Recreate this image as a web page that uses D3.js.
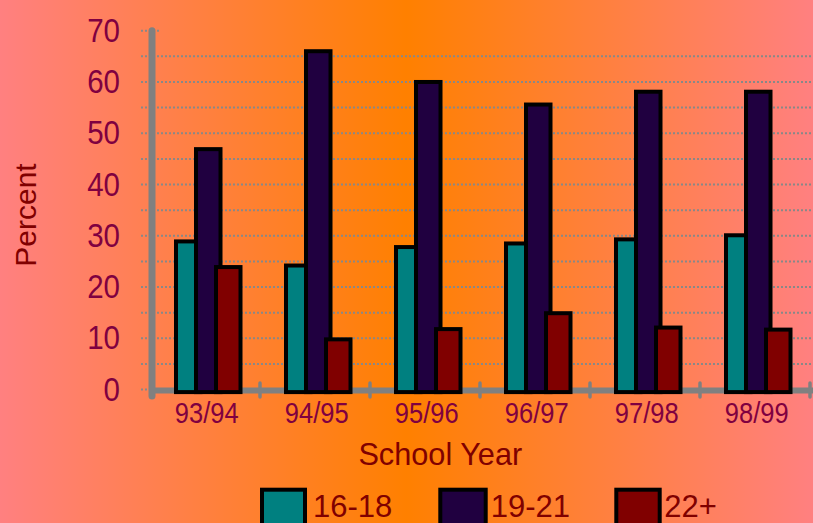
<!DOCTYPE html>
<html>
<head>
<meta charset="utf-8">
<script src="https://cdn.jsdelivr.net/npm/d3@7"></script>
<style>
  html, body { margin: 0; padding: 0; overflow: hidden; }
  svg { display: block; font-family: "Liberation Sans", Arial, sans-serif; }
</style>
</head>
<body>
<svg id="chart" width="813" height="523"></svg>
<script>
const categories = ["93/94", "94/95", "95/96", "96/97", "97/98", "98/99"];
const seriesNames = ["16-18", "19-21", "22+"];
const values1618 = [28.9, 24.2, 27.8, 28.5, 29.3, 30.1];
const values1921 = [46.9, 66.0, 60.0, 55.6, 58.1, 58.1];
const values22 = [23.9, 9.8, 11.8, 14.9, 12.1, 11.7];
const yTicks = [0, 10, 20, 30, 40, 50, 60, 70];
const gridValues = [5, 10, 15, 20, 25, 30, 35, 40, 45, 50, 55, 60, 65];
const colors = ["#008080", "#200040", "#800000"];

const series = [values1618, values1921, values22];

const svg = d3.select("#chart");
const W = 813, H = 523;

// background gradient
const defs = svg.append("defs");
const grad = defs.append("linearGradient").attr("id", "bg")
  .attr("x1", "0%").attr("x2", "100%").attr("y1", "0%").attr("y2", "0%");
grad.append("stop").attr("offset", "0%").attr("stop-color", "#FF8080");
grad.append("stop").attr("offset", "50%").attr("stop-color", "#FF8000");
grad.append("stop").attr("offset", "100%").attr("stop-color", "#FF8080");
svg.append("rect").attr("width", W).attr("height", H).attr("fill", "url(#bg)");

const x = d3.scaleBand().domain(categories).range([150, 810]).padding(0);
const y = d3.scaleLinear().domain([0, 70]).range([389.6, 30.7]);

// gridlines
svg.append("g").selectAll("line").data(gridValues).join("line")
  .attr("x1", 141).attr("x2", W)
  .attr("y1", d => y(d)).attr("y2", d => y(d))
  .attr("stroke", "#888888").attr("stroke-width", 2)
  .attr("stroke-dasharray", "2,2");
svg.append("g").selectAll("line").data([0, 70]).join("line")
  .attr("x1", 141).attr("x2", 160)
  .attr("y1", d => y(d)).attr("y2", d => y(d))
  .attr("stroke", "#888888").attr("stroke-width", 2)
  .attr("stroke-dasharray", "2,2");

// x axis line and ticks
svg.append("line")
  .attr("x1", 150).attr("x2", W)
  .attr("y1", y(0) + 1).attr("y2", y(0) + 1)
  .attr("stroke", "#808080").attr("stroke-width", 6);
const boundaries = categories.map(c => x(c) + x.bandwidth());
svg.append("g").selectAll("line").data(boundaries).join("line")
  .attr("x1", d => d).attr("x2", d => d)
  .attr("y1", 383).attr("y2", 397)
  .attr("stroke", "#808080").attr("stroke-width", 3.5)
  .attr("stroke-linecap", "round");

// y axis line
svg.append("line")
  .attr("x1", 152).attr("x2", 152)
  .attr("y1", y(70)).attr("y2", 396)
  .attr("stroke", "#808080").attr("stroke-width", 7)
  .attr("stroke-linecap", "round");

// bars
const barStep = 20, barW = 24.5, barOffset = 26;
series.forEach((vals, si) => {
  svg.append("g").selectAll("rect").data(categories).join("rect")
    .attr("x", c => x(c) + barOffset + si * barStep)
    .attr("width", barW)
    .attr("y", (c, i) => y(vals[i]))
    .attr("height", (c, i) => y(0) + 2.5 - y(vals[i]))
    .attr("fill", colors[si])
    .attr("stroke", "#000000")
    .attr("stroke-width", 4);
});

// y tick labels
svg.append("g").selectAll("g").data(yTicks).join("g")
  .attr("transform", d => `translate(120,${y(d)}) scale(1,1.1)`)
  .append("text")
  .attr("text-anchor", "end")
  .attr("dominant-baseline", "central")
  .attr("font-size", "29.5px")
  .attr("fill", "#800040")
  .text(d => d);

// x tick labels
svg.append("g").selectAll("g").data(categories).join("g")
  .attr("transform", c => `translate(${x(c) + x.bandwidth() / 2 + 1.7},423.3) scale(1,1.15)`)
  .append("text")
  .attr("text-anchor", "middle")
  .attr("font-size", "25.5px")
  .attr("fill", "#800040")
  .text(c => c);

// axis titles
svg.append("text")
  .attr("x", 440.3).attr("y", 465)
  .attr("text-anchor", "middle")
  .attr("font-size", "30.7px")
  .attr("fill", "#800000")
  .text("School Year");

svg.append("text")
  .attr("transform", "translate(36,215) rotate(-90)")
  .attr("text-anchor", "middle")
  .attr("font-size", "30px")
  .attr("fill", "#800000")
  .text("Percent");

// legend
const legendX = [262, 440.3, 616.3];
const legendTextX = [313, 490.7, 664.3];
const legendW = [43, 45.4, 43.4];
const lg = svg.append("g");
lg.selectAll("rect").data(seriesNames).join("rect")
  .attr("x", (d, i) => legendX[i])
  .attr("y", 489.7)
  .attr("width", (d, i) => legendW[i])
  .attr("height", 50)
  .attr("fill", (d, i) => colors[i])
  .attr("stroke", "#000")
  .attr("stroke-width", 4);
lg.selectAll("text").data(seriesNames).join("text")
  .attr("x", (d, i) => legendTextX[i])
  .attr("y", 517)
  .attr("font-size", "31px")
  .attr("fill", "#800000")
  .text(d => d);
</script>
</body>
</html>
